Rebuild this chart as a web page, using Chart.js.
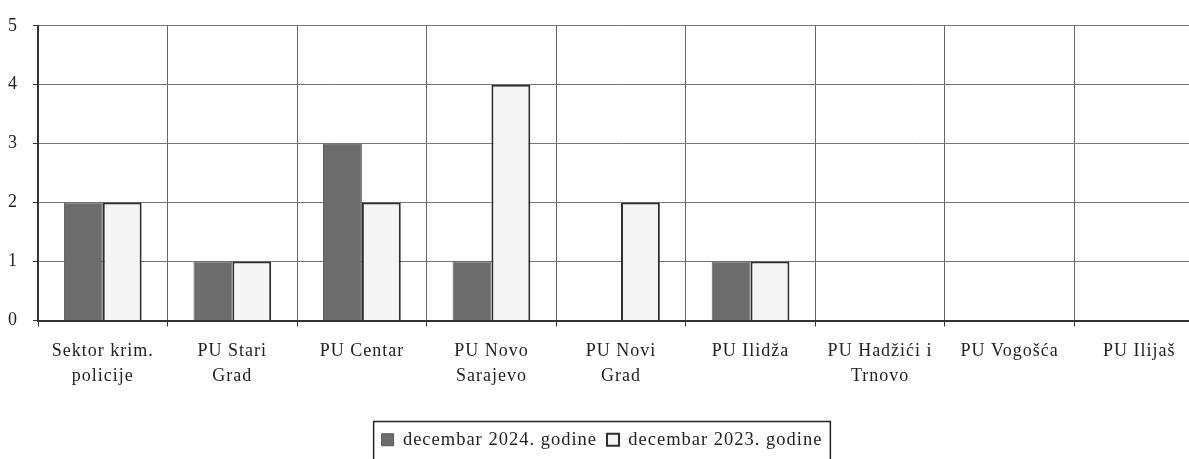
<!DOCTYPE html>
<html>
<head>
<meta charset="utf-8">
<script src="https://cdn.jsdelivr.net/npm/chart.js@4/dist/chart.umd.min.js"></script>
<style>
  html, body { margin: 0; padding: 0; background: #fff; overflow: hidden; }
  #wrap { width: 1189px; height: 459px; overflow: hidden; }
</style>
</head>
<body>
<div id="wrap"><canvas id="chart" width="1206" height="459"></canvas></div>
<script>
var categories = [
    ['Sektor krim.', 'policije'],
    ['PU Stari', 'Grad'],
    'PU Centar',
    ['PU Novo', 'Sarajevo'],
    ['PU Novi', 'Grad'],
    'PU Ilidža',
    ['PU Hadžići i', 'Trnovo'],
    'PU Vogošća',
    'PU Ilijaš'
];
var dec2024 = [2, 1, 3, 1, 0, 1, 0, 0, 0];
var dec2023 = [2, 1, 2, 4, 2, 1, 0, 0, 0];
var yTicks = [0, 1, 2, 3, 4, 5];

var serif = { family: '"Liberation Serif", "Times New Roman", serif', size: 18 };

var spacing = {
    id: 'spacing',
    beforeUpdate: function (chart) { chart.ctx.letterSpacing = '1px'; },
    beforeDraw: function (chart) { chart.ctx.letterSpacing = '1px'; }
};

var legendFrame = {
    id: 'legendFrame',
    afterDraw: function (chart) {
        var lg = chart.legend;
        var boxes = lg.legendHitBoxes;
        if (!boxes || !boxes.length) return;
        var first = boxes[0], last = boxes[boxes.length - 1];
        var ctx = chart.ctx;
        ctx.save();
        ctx.strokeStyle = '#222';
        ctx.lineWidth = 1.5;
        ctx.strokeRect(first.left - 8, lg.top + 1, last.left + last.width - first.left + 16, chart.height);
        ctx.restore();
    }
};

new Chart(document.getElementById('chart'), {
    type: 'bar',
    data: {
        labels: categories,
        datasets: [
            {
                label: 'decembar 2024. godine',
                data: dec2024,
                backgroundColor: '#6c6c6c',
                borderColor: '#5a5a5a',
                borderWidth: 1
            },
            {
                label: 'decembar 2023. godine',
                data: dec2023,
                backgroundColor: '#f4f4f4',
                borderColor: '#2e2e2e',
                borderWidth: 2
            }
        ]
    },
    options: {
        responsive: false,
        animation: false,
        layout: { padding: { top: 10, right: 2, left: 0, bottom: 0 } },
        datasets: {
            bar: { categoryPercentage: 0.6, barPercentage: 1.0 }
        },
        scales: {
            x: {
                afterFit: function (scale) { scale.height = 100; },
                ticks: {
                    autoSkip: false,
                    maxRotation: 0,
                    minRotation: 0,
                    padding: 12,
                    color: '#222',
                    font: Object.assign({ lineHeight: 1.4 }, serif)
                },
                grid: {
                    color: '#666',
                    lineWidth: 1,
                    tickLength: 6,
                    tickColor: '#333'
                },
                border: { color: '#333', width: 2 }
            },
            y: {
                min: 0,
                max: 5,
                afterFit: function (scale) { scale.width = 38; },
                afterBuildTicks: function (scale) {
                    scale.ticks = yTicks.map(function (v) { return { value: v }; });
                },
                ticks: {
                    padding: 15,
                    color: '#222',
                    font: serif
                },
                grid: {
                    color: '#777',
                    lineWidth: 1,
                    tickLength: 5,
                    tickColor: '#333'
                },
                border: { color: '#333', width: 2 }
            }
        },
        plugins: {
            legend: {
                position: 'bottom',
                labels: {
                    color: '#222',
                    font: Object.assign({}, serif, { size: 18.5 }),
                    boxWidth: 12,
                    boxHeight: 12,
                    padding: 10
                }
            },
            tooltip: { enabled: false }
        }
    },
    plugins: [spacing, legendFrame]
});
</script>
</body>
</html>
